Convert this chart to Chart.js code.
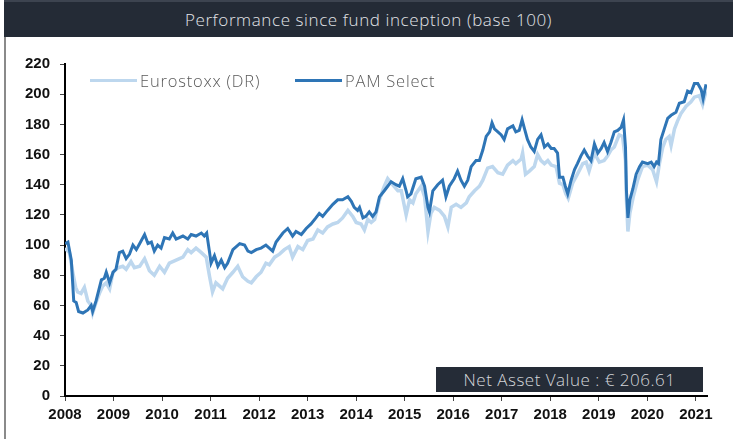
<!DOCTYPE html>
<html lang="en">
<head>
  <meta charset="UTF-8" />
  <title>Performance since fund inception</title>
  <script src="https://cdn.jsdelivr.net/npm/chart.js"></script>
  <style>
    body { margin: 0; background: #fff; }
    #wrap { position: relative; width: 733px; height: 439px; overflow: hidden; }
    #titleBar { position: absolute; left: 4px; top: 0; width: 729px; height: 35px; border-top: 2px solid #3d4450;
      background: #242b36; color: #e2e4e8; font: 300 17px "Open Sans", Lato, sans-serif; letter-spacing: 0.6px;
      text-align: center; line-height: 35px; }
    #leftEdge { position: absolute; left: 4px; top: 37px; width: 2px; height: 402px; background: #8a8a8a; }
    .swatch { position: absolute; width: 47px; height: 3px; top: 79px; }
    .legText { position: absolute; top: 69px; font: 300 16.5px "Open Sans", Lato, sans-serif; letter-spacing: 0.8px; color: #5a5a5a; }
    #nav { position: absolute; left: 436px; top: 367px; width: 267px; height: 25px; background: #252c37;
      color: #d4d6da; font: 300 17px "Open Sans", Lato, sans-serif; letter-spacing: 0.5px; text-align: center; line-height: 25px; }
    canvas { position: absolute; left: 0; top: 0; }
  </style>
</head>
<body>
<div id="wrap">
  <canvas id="perfChart" width="733" height="439"></canvas>
  <div id="titleBar">Performance since fund inception (base 100)</div>
  <div id="leftEdge"></div>
  <div class="swatch" style="left:90px;background:#bdd7ee"></div>
  <div class="legText" style="left:140px">Eurostoxx (DR)</div>
  <div class="swatch" style="left:295px;background:#2e75b6"></div>
  <div class="legText" style="left:345px">PAM Select</div>
  <div id="nav">Net Asset Value : € 206.61</div>
</div>

<script>
  // dates as decimal years, values base 100
  const pamYears = [
    2008.00,2008.06,2008.13,2008.18,2008.23,2008.28,2008.37,2008.47,2008.54,2008.57,2008.64,2008.75,2008.81,2008.85,2008.92,2008.99,
    2009.05,2009.12,2009.19,2009.26,2009.33,2009.40,2009.47,2009.54,2009.64,2009.71,2009.78,2009.84,2009.91,2009.98,
    2010.05,2010.15,2010.22,2010.29,2010.43,2010.53,2010.60,2010.70,2010.81,2010.87,2010.92,2010.98,
    2011.01,2011.08,2011.15,2011.22,2011.29,2011.35,2011.46,2011.60,2011.70,2011.77,2011.84,2011.94,2012.04,2012.14,
    2012.21,2012.28,2012.35,2012.49,2012.59,2012.69,2012.76,2012.87,2012.97,
    2013.07,2013.17,2013.24,2013.31,2013.41,2013.52,2013.62,2013.72,2013.83,2013.90,2013.96,
    2014.03,2014.07,2014.14,2014.20,2014.27,2014.34,2014.41,2014.48,2014.58,2014.65,2014.72,2014.82,2014.89,2014.96,
    2015.03,2015.06,2015.13,2015.23,2015.34,2015.41,2015.48,2015.51,2015.58,2015.68,2015.78,2015.85,2015.92,
    2016.02,2016.09,2016.16,2016.23,2016.30,2016.37,2016.47,
    2016.54,2016.61,2016.68,2016.75,2016.80,2016.85,2016.92,2016.99,
    2017.05,2017.12,2017.23,2017.29,2017.36,2017.42,2017.47,2017.53,2017.60,2017.67,2017.74,2017.81,2017.88,2017.95,
    2018.02,2018.08,2018.15,2018.19,2018.26,2018.31,2018.36,2018.43,2018.50,2018.56,2018.63,2018.70,2018.77,2018.84,2018.91,2018.98,
    2019.05,2019.11,2019.18,2019.25,2019.32,2019.39,2019.46,2019.51,2019.55,2019.57,2019.60,2019.64,2019.70,2019.77,2019.84,2019.90,
    2020.01,2020.08,2020.14,2020.19,2020.23,2020.28,2020.35,2020.42,2020.49,2020.59,2020.66,2020.76,2020.83,2020.90,2020.97,
    2021.04,2021.11,2021.15,2021.21
  ];
  const pamValues = [
    101,102,90,63,62,56,55,57,60,56,63,77,78,82,75,82,
    84,95,96,91,94,100,97,101,107,101,102,96,100,98,
    105,104,108,104,106,104,107,106,108,106,108,95,
    88,93,86,90,85,88,97,101,100,96,95,97,98,100,
    98,96,102,108,111,106,109,107,111,
    114,118,121,119,123,127,130,130,132,129,125,
    123,125,118,119,122,119,122,132,136,139,142,140,139,144,
    136,132,134,144,145,139,125,122,136,140,143,132,139,
    144,149,143,139,143,152,156,
    156,163,172,175,181,177,175,173,
    170,177,179,175,176,183,177,170,165,162,170,173,165,167,
    164,164,161,145,145,139,134,143,150,154,159,163,159,156,167,161,
    164,168,162,168,175,176,178,183,165,136,118,130,137,147,152,155,
    154,155,152,155,154,170,177,184,186,188,194,195,202,201,207,
    207,203,197,206.6
  ];

  const euroYears = [
    2008.00,2008.09,2008.16,2008.22,2008.26,2008.33,2008.40,2008.47,2008.54,2008.57,2008.64,2008.71,2008.78,2008.85,2008.92,2008.99,
    2009.09,2009.19,2009.26,2009.36,2009.43,2009.54,2009.64,2009.74,2009.84,2009.95,
    2010.05,2010.15,2010.29,2010.43,2010.53,2010.60,2010.70,2010.81,2010.91,2010.98,
    2011.04,2011.11,2011.18,2011.25,2011.35,2011.46,2011.56,2011.66,2011.77,2011.84,2011.94,2012.04,2012.14,
    2012.21,2012.32,2012.42,2012.52,2012.62,2012.69,2012.80,2012.90,
    2013.00,2013.11,2013.21,2013.31,2013.41,2013.52,2013.62,2013.72,2013.83,2013.93,
    2014.00,2014.10,2014.17,2014.24,2014.31,2014.38,2014.48,2014.58,2014.65,2014.75,2014.86,2014.93,
    2015.03,2015.10,2015.17,2015.23,2015.34,2015.41,2015.48,2015.54,2015.61,2015.72,2015.82,2015.89,2015.96,
    2016.06,2016.16,2016.27,2016.33,2016.44,
    2016.54,2016.61,2016.71,2016.81,2016.92,
    2017.02,2017.12,2017.23,2017.29,2017.40,2017.43,2017.49,2017.57,2017.67,2017.74,2017.81,2017.88,2017.95,
    2018.02,2018.12,2018.19,2018.26,2018.32,2018.37,2018.46,2018.56,2018.67,2018.74,2018.80,2018.91,
    2019.01,2019.11,2019.18,2019.25,2019.32,2019.42,2019.49,2019.55,2019.57,2019.60,2019.64,2019.71,2019.80,2019.90,
    2020.01,2020.11,2020.19,2020.25,2020.32,2020.38,2020.45,2020.49,2020.56,2020.62,2020.69,2020.80,2020.90,2020.97,
    2021.07,2021.14,2021.21
  ];
  const euroValues = [
    98,95,82,72,69,68,72,63,60,55,62,68,73,75,71,82,
    85,86,84,89,85,86,91,83,80,86,
    82,88,90,92,97,95,98,95,92,79,
    69,75,73,71,78,82,86,79,76,75,79,82,88,
    87,92,94,97,99,92,99,97,
    103,104,110,108,112,114,115,118,123,119,
    115,114,110,117,115,117,130,139,144,140,136,136,
    120,130,128,134,139,132,109,121,125,123,119,112,125,
    127,125,128,132,136,
    139,143,151,152,148,
    147,153,156,154,157,161,147,149,152,160,156,154,156,
    153,152,141,140,134,131,141,147,154,155,149,161,
    155,156,159,163,165,173,172,156,130,109,121,132,143,152,
    153,150,142,154,165,170,172,166,177,182,187,192,195,198,
    199,193,202
  ];

  const xTickYears = [2008,2009,2010,2011,2012,2013,2014,2015,2016,2017,2018,2019,2020,2021];
  const yMin = 0, yMax = 220, yStep = 20;

  const toPoints = (xs, ys) => xs.map((x, i) => ({ x: x, y: ys[i] }));
  const tickFont = { family: '"Liberation Sans", Arial, sans-serif', size: 15, weight: 'bold' };

  new Chart(document.getElementById('perfChart'), {
    type: 'line',
    data: {
      datasets: [
        {
          label: 'PAM Select',
          data: toPoints(pamYears, pamValues),
          borderColor: '#2e75b6',
          borderWidth: 3,
          pointRadius: 0,
          tension: 0
        },
        {
          label: 'Eurostoxx (DR)',
          data: toPoints(euroYears, euroValues),
          borderColor: '#bdd7ee',
          borderWidth: 3.5,
          pointRadius: 0,
          tension: 0
        }
      ]
    },
    options: {
      responsive: false,
      animation: false,
      devicePixelRatio: 1,
      layout: { padding: { top: 64, right: 26, left: 0, bottom: 0 } },
      plugins: { legend: { display: false }, tooltip: { enabled: false } },
      scales: {
        x: {
          type: 'linear',
          min: 2008,
          max: 2021.23,
          afterBuildTicks: (scale) => { scale.ticks = xTickYears.map(v => ({ value: v })); },
          afterFit: (scale) => { scale.height = 43; },
          border: { color: '#000', width: 2 },
          grid: { drawOnChartArea: false, drawTicks: true, tickLength: 5, color: '#444', lineWidth: 1 },
          ticks: { color: '#111', font: tickFont, padding: 5, maxRotation: 0, autoSkip: false,
                   callback: (v) => String(v) }
        },
        y: {
          min: yMin,
          max: yMax,
          afterFit: (scale) => { scale.width = 65; },
          border: { color: '#000', width: 2 },
          grid: { drawOnChartArea: false, drawTicks: true, tickLength: 5, color: '#444', lineWidth: 1 },
          ticks: { stepSize: yStep, color: '#111', font: tickFont, padding: 10 }
        }
      }
    }
  });
</script>
</body>
</html>
